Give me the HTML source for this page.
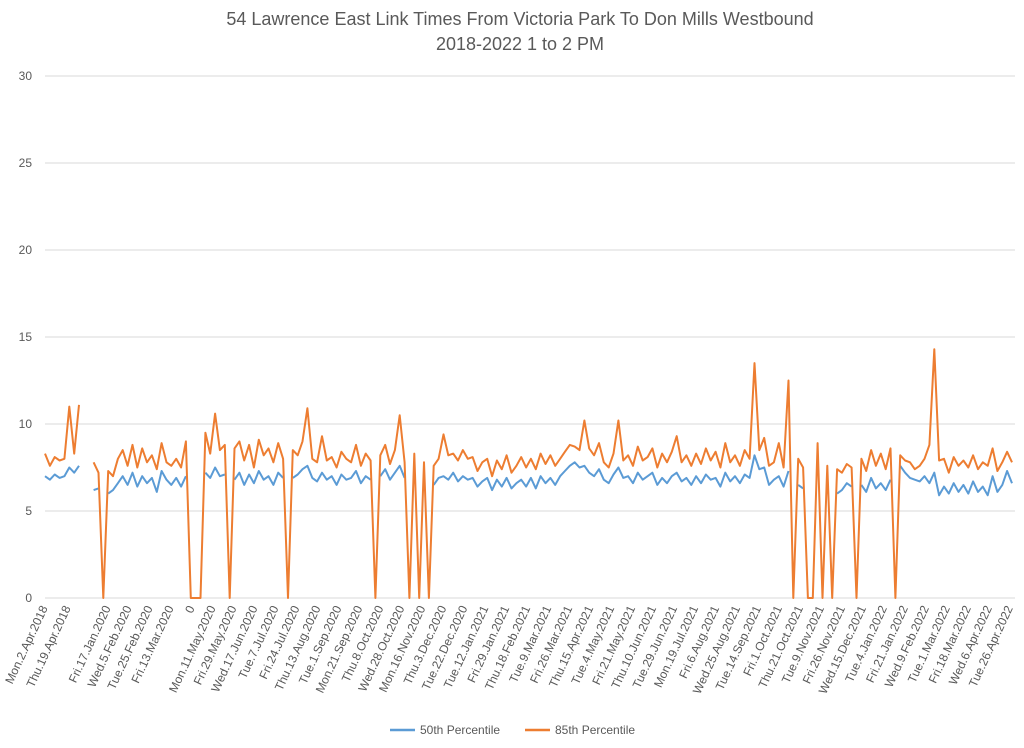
<!DOCTYPE html>
<html><head><meta charset="utf-8"><style>
body{margin:0;background:#fff;width:1024px;height:743px;overflow:hidden;font-family:"Liberation Sans",sans-serif}
</style></head><body>
<svg id="chart" width="1024" height="743" xmlns="http://www.w3.org/2000/svg" font-family="Liberation Sans, sans-serif">
<text x="520" y="25" text-anchor="middle" font-size="18" fill="#595959">54 Lawrence East Link Times From Victoria Park To Don Mills Westbound</text>
<text x="520" y="50" text-anchor="middle" font-size="18" fill="#595959">2018-2022 1 to 2 PM</text>
<g id="grid"></g><g id="xl"></g><g id="series"></g>
<g>
<line x1="390" y1="730" x2="415" y2="730" stroke="#5b9bd5" stroke-width="2.5"/>
<text x="420" y="734" font-size="12" fill="#595959">50th Percentile</text>
<line x1="525" y1="730" x2="550" y2="730" stroke="#ed7d31" stroke-width="2.5"/>
<text x="555" y="734" font-size="12" fill="#595959">85th Percentile</text>
</g>
</svg>
<script>
const yTicks=[0,5,10,15,20,25,30];
const xLabels=["Mon.2.Apr.2018","Thu.19.Apr.2018","Fri.17.Jan.2020","Wed.5.Feb.2020","Tue.25.Feb.2020","Fri.13.Mar.2020","0","Mon.11.May.2020","Fri.29.May.2020","Wed.17.Jun.2020","Tue.7.Jul.2020","Fri.24.Jul.2020","Thu.13.Aug.2020","Tue.1.Sep.2020","Mon.21.Sep.2020","Thu.8.Oct.2020","Wed.28.Oct.2020","Mon.16.Nov.2020","Thu.3.Dec.2020","Tue.22.Dec.2020","Tue.12.Jan.2021","Fri.29.Jan.2021","Thu.18.Feb.2021","Tue.9.Mar.2021","Fri.26.Mar.2021","Thu.15.Apr.2021","Tue.4.May.2021","Fri.21.May.2021","Thu.10.Jun.2021","Tue.29.Jun.2021","Mon.19.Jul.2021","Fri.6.Aug.2021","Wed.25.Aug.2021","Tue.14.Sep.2021","Fri.1.Oct.2021","Thu.21.Oct.2021","Tue.9.Nov.2021","Fri.26.Nov.2021","Wed.15.Dec.2021","Tue.4.Jan.2022","Fri.21.Jan.2022","Wed.9.Feb.2022","Tue.1.Mar.2022","Fri.18.Mar.2022","Wed.6.Apr.2022","Tue.26.Apr.2022"];
const p85=[8.3,7.6,8.1,7.9,8.0,11.0,8.3,11.1,null,null,
7.8,7.2,0,7.3,7.0,8.0,8.5,7.6,8.8,7.5,
8.6,7.8,8.2,7.4,8.9,7.8,7.6,8.0,7.5,9.0,
0,0,0,9.5,8.3,10.6,8.5,8.8,0,8.6,
9.0,7.9,8.8,7.5,9.1,8.2,8.6,7.8,8.9,8.0,
0,8.5,8.2,9.0,10.9,8.0,7.8,9.3,7.9,8.1,
7.5,8.4,8.0,7.8,8.8,7.6,8.3,7.9,0,8.2,
8.8,7.7,8.5,10.5,7.8,0,8.3,0,7.8,0,
7.6,8.0,9.4,8.2,8.3,7.9,8.5,8.0,8.1,7.3,
7.8,8.0,7.0,7.9,7.4,8.2,7.2,7.6,8.1,7.5,
8.0,7.4,8.3,7.7,8.2,7.6,8.0,8.4,8.8,8.7,
8.5,10.2,8.6,8.2,8.9,7.8,7.5,8.3,10.2,7.9,
8.2,7.6,8.7,7.9,8.1,8.6,7.5,8.3,7.8,8.4,
9.3,7.8,8.2,7.6,8.3,7.7,8.6,7.9,8.4,7.5,
8.9,7.8,8.2,7.6,8.5,8.0,13.5,8.5,9.2,7.6,
7.8,8.9,7.5,12.5,0,8.0,7.5,0,0,8.9,
0,7.6,0,7.4,7.2,7.7,7.5,0,8.0,7.3,
8.5,7.6,8.3,7.4,8.6,0,8.2,7.9,7.8,7.4,
7.6,8.0,8.8,14.3,7.9,8.0,7.2,8.1,7.6,7.9,
7.5,8.2,7.4,7.8,7.6,8.6,7.3,7.8,8.4,7.8];
const p50=[7.0,6.8,7.1,6.9,7.0,7.5,7.2,7.6,null,null,
6.2,6.3,null,6.0,6.2,6.6,7.0,6.5,7.2,6.4,
7.0,6.6,6.9,6.1,7.3,6.8,6.5,6.9,6.4,7.0,
null,null,null,7.2,6.9,7.5,7.0,7.1,null,6.8,
7.2,6.5,7.1,6.6,7.3,6.8,7.0,6.5,7.2,6.9,
null,6.9,7.1,7.4,7.6,6.9,6.7,7.2,6.8,7.0,
6.5,7.1,6.8,6.9,7.3,6.6,7.0,6.8,null,7.0,
7.4,6.8,7.2,7.6,6.9,null,7.0,null,6.8,null,
6.5,6.9,7.0,6.8,7.2,6.7,7.0,6.8,6.9,6.4,
6.7,6.9,6.2,6.8,6.4,6.9,6.3,6.6,6.8,6.4,
6.9,6.3,7.0,6.6,6.9,6.5,7.0,7.3,7.6,7.8,
7.5,7.6,7.2,7.0,7.4,6.8,6.6,7.1,7.5,6.9,
7.0,6.6,7.2,6.8,7.0,7.2,6.5,6.9,6.6,7.0,
7.2,6.7,6.9,6.5,7.0,6.6,7.1,6.8,6.9,6.4,
7.2,6.7,7.0,6.6,7.1,6.9,8.2,7.4,7.5,6.5,
6.8,7.0,6.4,7.3,null,6.5,6.3,null,null,6.2,
null,6.3,null,6.0,6.2,6.6,6.4,null,6.5,6.1,
6.9,6.3,6.6,6.2,6.8,null,7.6,7.2,6.9,6.8,
6.7,7.0,6.6,7.2,5.9,6.4,6.0,6.6,6.1,6.5,
6.0,6.7,6.1,6.4,5.9,7.0,6.1,6.5,7.3,6.6];

const NS="http://www.w3.org/2000/svg";
const X0=45,X1=1012,Y0=598,Y30=76;
const yS=v=>Y0-(v/30)*(Y0-Y30);
const xS=i=>X0+i*(X1-X0)/(p85.length-1);
function mk(t,a,p){const e=document.createElementNS(NS,t);for(const k in a)e.setAttribute(k,a[k]);p.appendChild(e);return e;}
const grid=document.getElementById('grid');
yTicks.forEach(v=>{
  const l=mk('line',{x1:45,x2:1015,y1:yS(v),y2:yS(v),stroke:'#d9d9d9','stroke-width':1},grid);
  
  
  const t=mk('text',{x:32,y:yS(v)+4,'text-anchor':'end','font-size':12,fill:'#595959'},grid);
  t.textContent=v;
  
  
});
const xl=document.getElementById('xl');
xLabels.forEach((s,k)=>{
  const x=k===0?48:k===1?71:111+(k-2)*20.98;
  const t=mk('text',{x:x,y:608,'text-anchor':'end','font-size':12,fill:'#595959',transform:`rotate(-65 ${x} 608)`},xl);
  t.textContent=s;
  
  
});
const sg=document.getElementById('series');
function draw(arr,color,name){
  let d='',pen=false;
  arr.forEach((v,i)=>{
    if(v===null){pen=false;return;}
    d+=(pen?'L':'M')+xS(i).toFixed(1)+' '+yS(v).toFixed(1)+' ';pen=true;
  });
  const p=mk('path',{d:d,fill:'none',stroke:color,'stroke-width':2,'stroke-linejoin':'round'},sg);
  
  
}
draw(p50,'#5b9bd5','series-50th-percentile');
draw(p85,'#ed7d31','series-85th-percentile');
</script>
</body></html>
